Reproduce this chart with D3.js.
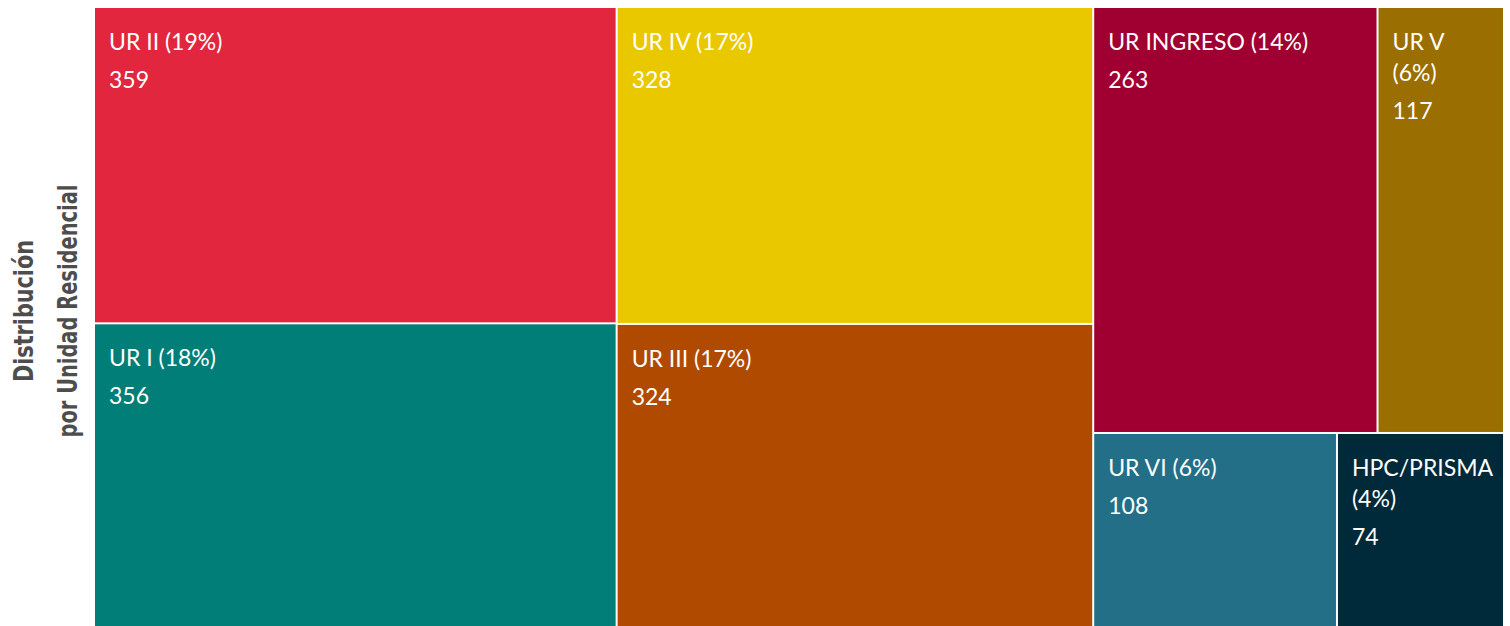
<!DOCTYPE html>
<html>
<head>
<meta charset="utf-8">
<script src="https://cdn.jsdelivr.net/npm/d3@7"></script>
<style>
  body { margin: 0; background: #fff; }
  svg { display: block; }
</style>
</head>
<body>
<div class="canvas"></div>
<script>
// data
const units = ['UR II', 'UR I', 'UR IV', 'UR III', 'UR INGRESO', 'UR V', 'UR VI', 'HPC/PRISMA'];
const counts = [359, 356, 328, 324, 263, 117, 108, 74];
const colors = ['#e1263e', '#007e77', '#eac800', '#b04a00', '#a00031', '#9a6e00', '#236f87', '#002a3a'];
const titleLines = ['Distribución', 'por Unidad Residencial'];

const dims = { width: 1510, height: 626 };
// the tile area runs a little past the bottom edge, as in the original
const area = { x: 95, y: 8, w: 1408, h: 628 };

const svg = d3.select('.canvas')
  .append('svg')
    .attr('width', dims.width)
    .attr('height', dims.height);

// rotated title on the left
const title = svg.append('text')
  .attr('transform', 'translate(0, 311) rotate(-90)')
  .attr('text-anchor', 'middle')
  .attr('fill', '#4d4d4d')
  .style('font-family', '"Liberation Sans Narrow", "DejaVu Sans Condensed", "DejaVu Sans", sans-serif')
  .style('font-stretch', 'condensed')
  .style('font-weight', 'bold')
  .style('font-size', '27px');

title.append('tspan')
  .attr('x', 0).attr('y', 33)
  .attr('textLength', 142).attr('lengthAdjust', 'spacingAndGlyphs')
  .text(titleLines[0]);
title.append('tspan')
  .attr('x', 0).attr('y', 77)
  .attr('textLength', 253).attr('lengthAdjust', 'spacingAndGlyphs')
  .text(titleLines[1]);

// hierarchy
const total = d3.sum(counts);
const rows = units.map((u, i) => ({ name: u, value: counts[i], color: colors[i] }));

const root = d3.hierarchy({ children: rows })
  .sum(d => d.value || 0)
  .sort((a, b) => b.value - a.value);

d3.treemap()
  .tile(d3.treemapSquarify)
  .size([area.w, area.h])
  .paddingInner(2)
  (root);

const graph = svg.append('g')
  .attr('transform', `translate(${area.x}, ${area.y})`);

const cells = graph.selectAll('g.cell')
  .data(root.leaves())
  .enter()
  .append('g')
    .attr('class', 'cell')
    .attr('transform', d => `translate(${d.x0}, ${d.y0})`);

cells.append('rect')
  .attr('width', d => d.x1 - d.x0)
  .attr('height', d => d.y1 - d.y0)
  .attr('fill', d => d.data.color);

const fontFamily = 'Lato, "Open Sans", sans-serif';

cells.each(function (d) {
  const g = d3.select(this);
  const w = d.x1 - d.x0;
  const pct = `(${Math.round(d.value / total * 100)}%)`;
  const full = `${d.data.name} ${pct}`;

  const txt = g.append('text')
    .attr('fill', '#fff')
    .style('font-family', fontFamily)
    .style('font-size', '23px');

  // measure, wrap if too tight
  const probe = txt.append('tspan').text(full);
  const tooWide = probe.node().getComputedTextLength() > w - 40;
  probe.remove();

  const lines = tooWide ? [d.data.name, pct] : [full];
  let y = 42;
  lines.forEach(l => {
    txt.append('tspan').attr('x', 14).attr('y', y).text(l);
    y += 31;
  });
  txt.append('tspan').attr('x', 14).attr('y', y + 7).text(d.value);
});
</script>
</body>
</html>
